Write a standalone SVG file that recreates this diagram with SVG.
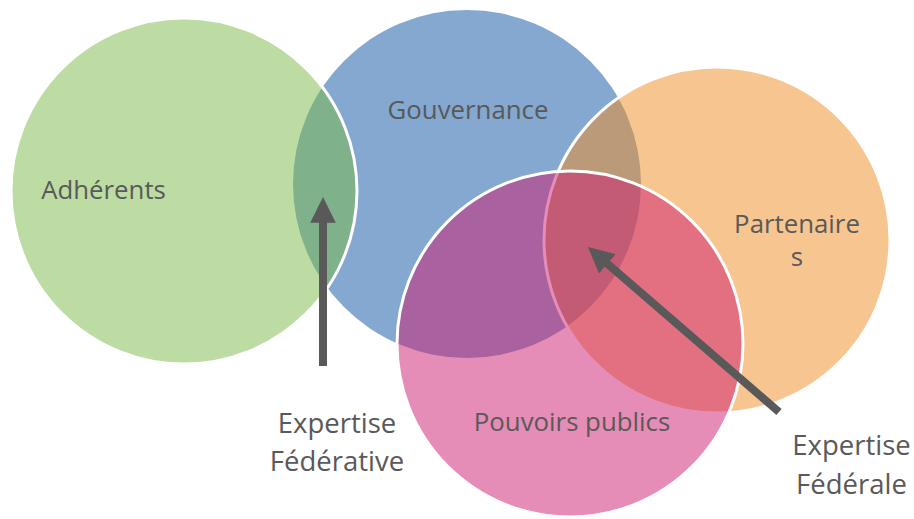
<svg xmlns="http://www.w3.org/2000/svg" width="914" height="519" viewBox="0 0 914 519">
  <style>
    .c { fill-opacity: 0.5; stroke: #ffffff; stroke-width: 3; }
    .t { font-family: "Open Sans", "Liberation Sans", sans-serif; font-size: 25.8px; fill: #595959; text-anchor: middle; }
    .e { font-size: 27.5px; }
    .a { stroke: #595959; stroke-width: 8; fill: none; marker-end: url(#ah); }
  </style>
  <defs>
    <marker id="ah" viewBox="0 0 10 10" refX="3" refY="5" markerWidth="3.2" markerHeight="3.2" orient="auto" markerUnits="strokeWidth">
      <path d="M0,0 L10,5 L0,10 z" fill="#595959"/>
    </marker>
  </defs>
  <rect width="914" height="519" fill="#ffffff"/>
  <g id="gouvernance">
    <circle cx="467" cy="184" r="174" fill="#0951A0" fill-opacity="0.5" stroke="none"/>
    <text class="t" x="468" y="119">Gouvernance</text>
  </g>
  <g id="adherents">
    <circle class="c" cx="184" cy="191" r="173" fill="#79B947"/>
    <text class="t" x="103.5" y="199">Adhérents</text>
  </g>
  <g id="partenaires">
    <circle class="c" cx="717" cy="240" r="173" fill="#EF8B21"/>
    <text class="t" x="797" y="233">Partenaire</text>
    <text class="t" x="797" y="266">s</text>
  </g>
  <g id="pouvoirs-publics">
    <circle class="c" cx="570" cy="344" r="173" fill="#CD1B6F"/>
    <text class="t" x="572" y="431">Pouvoirs publics</text>
  </g>
  <g id="connectors">
    <path class="a" d="M323,366 L323,215"/>
    <path class="a" d="M779,412 L601.6,258.8"/>
  </g>
  <g id="expertise-federative">
    <text class="t e" x="337" y="433">Expertise</text>
    <text class="t e" x="337" y="471">Fédérative</text>
  </g>
  <g id="expertise-federale">
    <text class="t e" x="851.5" y="455">Expertise</text>
    <text class="t e" x="851.5" y="494">Fédérale</text>
  </g>
</svg>
